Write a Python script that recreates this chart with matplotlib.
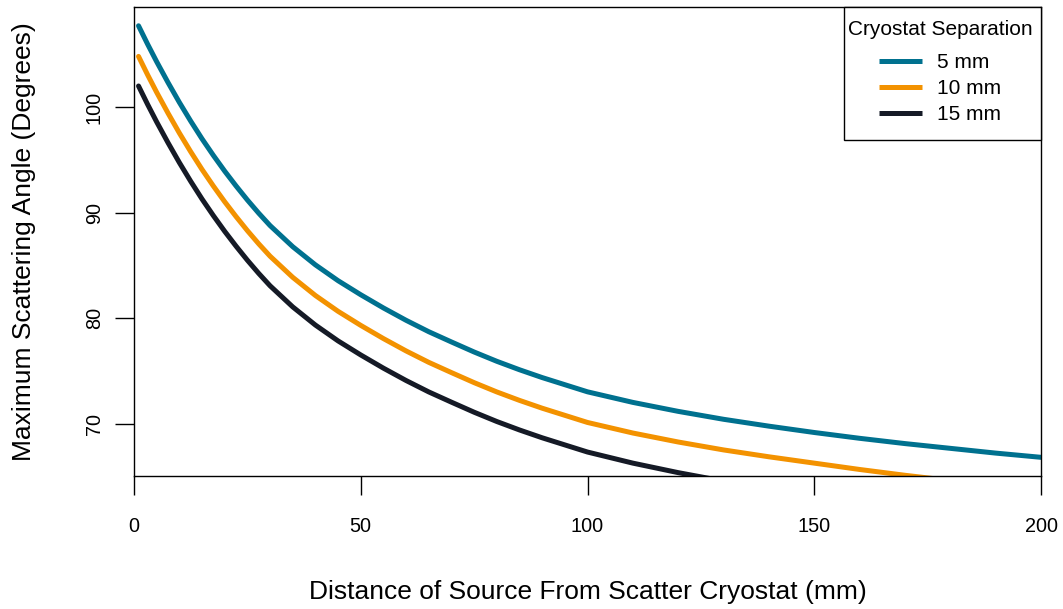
import matplotlib
matplotlib.use("Agg")
import matplotlib.pyplot as plt
from matplotlib.patches import Rectangle

plt.rcParams['font.family'] = ['Liberation Sans', 'DejaVu Sans']

# distance of source from scatter cryostat (mm)
distance = [1, 3, 5, 7.5, 10, 12.5, 15, 17.5, 20, 22.5, 25, 27.5, 30, 35, 40, 45, 50,
            55, 60, 65, 70, 75, 80, 85, 90, 100, 110, 120, 130, 140, 150, 160, 170,
            180, 190, 200]

# maximum scattering angle (degrees) per cryostat separation
sep_5mm = [107.7, 105.96, 104.3, 102.33, 100.45, 98.68, 97.0, 95.43, 93.94, 92.54,
           91.21, 89.96, 88.79, 86.79, 85.07, 83.57, 82.24, 80.99, 79.82, 78.74,
           77.77, 76.82, 75.94, 75.14, 74.4, 73.05, 72.05, 71.2, 70.45, 69.8, 69.2,
           68.65, 68.15, 67.7, 67.25, 66.85]
sep_10mm = [104.8, 103.06, 101.4, 99.43, 97.55, 95.78, 94.1, 92.53, 91.04, 89.64,
            88.31, 87.06, 85.89, 83.89, 82.17, 80.67, 79.34, 78.09, 76.92, 75.84,
            74.87, 73.92, 73.04, 72.24, 71.5, 70.15, 69.15, 68.3, 67.55, 66.9, 66.3,
            65.7, 65.15, 64.65, 64.2, 63.8]
sep_15mm = [102.0, 100.26, 98.6, 96.63, 94.75, 92.98, 91.3, 89.73, 88.24, 86.84,
            85.51, 84.26, 83.09, 81.09, 79.37, 77.87, 76.54, 75.29, 74.12, 73.04,
            72.07, 71.12, 70.24, 69.44, 68.7, 67.35, 66.3, 65.4, 64.6, 63.95, 63.35,
            62.8, 62.3, 61.85, 61.4, 61.0]

labels = ['5 mm', '10 mm', '15 mm']
colors = ['#00718F', '#F39200', '#151A26']

fig = plt.figure(figsize=(10.63, 6.09), dpi=100)
ax = fig.add_axes([134 / 1063, 1 - 475.7 / 609, 907 / 1063, 468.4 / 609])

for ys, lab, col in zip([sep_5mm, sep_10mm, sep_15mm], labels, colors):
    ax.plot(distance, ys, color=col, lw=3.6, label=lab,
            solid_capstyle='round', solid_joinstyle='round')

ax.set_xlim(0, 200)
ax.set_ylim(65.11, 109.45)
ax.set_xticks([0, 50, 100, 150, 200])
ax.set_yticks([70, 80, 90, 100])

for sp in ax.spines.values():
    sp.set_linewidth(1.0)
    sp.set_color('black')

ax.tick_params(axis='both', direction='out', length=13.7, width=1.0,
               labelsize=14.3, color='black')
ax.tick_params(axis='x', pad=16)
ax.tick_params(axis='y', pad=8, labelrotation=90)
for t in ax.get_yticklabels():
    t.set_va('center')

ax.set_xlabel('Distance of Source From Scatter Cryostat (mm)', fontsize=19, va='center')
ax.xaxis.set_label_coords(0.5, (475.7 - 592) / 468.4)
ax.set_ylabel('Maximum Scattering Angle (Degrees)', fontsize=19, va='center')
ax.yaxis.set_label_coords((24 - 134) / 907, 0.5)

# legend frame (R-style box, tight left/right padding)
ax.add_patch(Rectangle(((844 - 134) / 907, (475.7 - 140) / 468.4),
                       (1041 - 844) / 907, (140 - 7.3) / 468.4,
                       transform=ax.transAxes, facecolor='white', edgecolor='black',
                       lw=1.0, zorder=4, clip_on=False))

leg = ax.legend(title='Cryostat Separation', loc='upper center',
                bbox_to_anchor=((940 - 134) / 907, (475.7 - 20.5) / 468.4),
                borderaxespad=0, borderpad=0, frameon=False, fontsize=15,
                title_fontsize=15, handlelength=2.06, handletextpad=0.72,
                labelspacing=0.33)
leg.set_zorder(5)
leg._legend_box.sep = 10.0
for line in leg.get_lines():
    line.set_linewidth(3.6)
    line.set_solid_capstyle('butt')

fig.savefig('out.png', dpi=100)
